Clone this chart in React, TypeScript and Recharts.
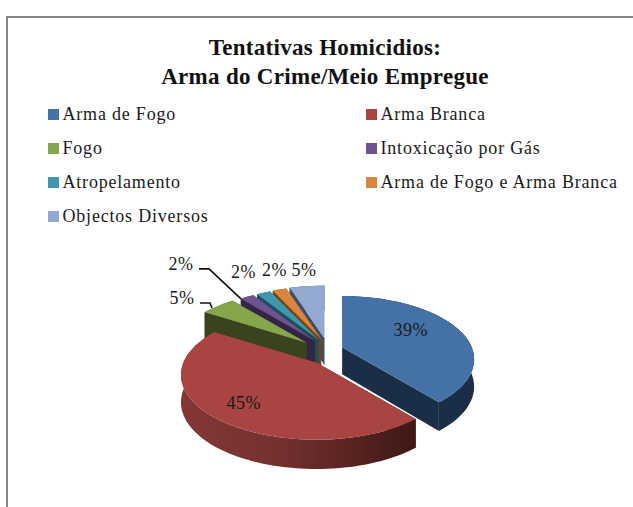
import React from 'react';
import { PieChart, Pie, Legend } from 'recharts';

const categories = [
  'Arma de Fogo',
  'Arma Branca',
  'Fogo',
  'Intoxicação por Gás',
  'Atropelamento',
  'Arma de Fogo e Arma Branca',
  'Objectos Diversos',
];
const values = [39, 45, 5, 2, 2, 2, 5];
const titleLines = ['Tentativas Homicidios:', 'Arma do Crime/Meio Empregue'];

const topColors = ['#4471a6', '#a84542', '#86a64b', '#6f5390', '#3f97ae', '#db843d', '#93a9d0'];
const sideColors = ['#1b2e47', 'url(#redWall)', '#3a431f', '#352544', '#1e4f5c', '#7a4213', '#3f4e68'];
const cutColors = ['#1b2e47', '#451a17', '#3a431f', '#352544', '#1e4f5c', '#7a4213', '#3f4e68'];

// how far each slice is pulled sideways out of the pie
const explode = [1, 1, 1.7, 1.3, 1.1, 1, 1];
// the blue slice sits a little tighter in the reference
const radiusScale = [0.975, 1, 1, 1, 1, 1, 1];
// label position relative to the middle of the slice's rim
const labelOffset = [[-46, 2], [30, -14], [-36, -8], [-66, -33], [-20, -21], [-5, -20], [-3, -16]];
const hasLeader = [false, false, true, true, false, false, false];

// 3d look
const SQUASH = 0.47;
const PERSPECTIVE = 0.19;
const DEPTH = 27;
const EXPLODE_X = 16;
const EXPLODE_Y = 14;

const FONT = '"Liberation Serif", serif';

// painted back to front, so the list runs backwards and the pie goes anticlockwise
const pieData = categories
  .map((name, idx) => ({ name, value: values[idx], idx }))
  .reverse();

const rad = (d: number) => (d * Math.PI) / 180;

function sliceGeometry(p: any) {
  const idx = p.idx ?? p.payload?.idx;
  const mid = rad((p.startAngle + p.endAngle) / 2);
  const ax = p.cx + EXPLODE_X * explode[idx] * Math.cos(mid);
  const ay = p.cy - EXPLODE_Y * Math.sin(mid);
  const radius = p.outerRadius * radiusScale[idx];
  const rim = (deg: number) => {
    const u = Math.cos(rad(deg));
    const v = -Math.sin(rad(deg));
    const w = 1 - PERSPECTIVE * v;
    return {
      x: ax + (radius * u) / w,
      y: ay + (radius * SQUASH * v) / w,
      d: DEPTH / Math.pow(w, 0.4),
    };
  };
  return { idx, ax, ay, rim };
}

const pts = (list: { x: number; y: number }[]) =>
  list.map((q) => `${q.x.toFixed(1)},${q.y.toFixed(1)}`).join(' ');

const Slice3D = (props: any) => {
  const { idx, ax, ay, rim } = sliceGeometry(props);
  const steps = Math.max(4, Math.ceil(Math.abs(props.endAngle - props.startAngle) / 2));
  const arc = Array.from({ length: steps + 1 }, (_, i) =>
    rim(props.startAngle + ((props.endAngle - props.startAngle) * i) / steps)
  );
  const lower = arc.map((q) => ({ x: q.x, y: q.y + q.d }));
  const first = arc[0];
  const last = arc[arc.length - 1];
  const apex = { x: ax, y: ay };
  const apexLow = { x: ax, y: ay + DEPTH };
  return (
    <g>
      <polygon points={pts([apex, first, { x: first.x, y: first.y + first.d }, apexLow])} fill={cutColors[idx]} />
      <polygon points={pts([apex, last, { x: last.x, y: last.y + last.d }, apexLow])} fill={cutColors[idx]} />
      <polygon points={pts([...arc, ...lower.slice().reverse()])} fill={sideColors[idx]} />
      <polygon points={pts([apex, ...arc])} fill={topColors[idx]} />
    </g>
  );
};

const renderLabel = (props: any) => {
  const { idx, rim } = sliceGeometry(props);
  const edge = rim((props.startAngle + props.endAngle) / 2);
  const x = edge.x + labelOffset[idx][0];
  const y = edge.y + labelOffset[idx][1];
  return (
    <g key={idx}>
      {hasLeader[idx] && (
        <polyline
          points={`${x + 18},${y + 5} ${x + 28},${y + 5} ${edge.x - 6},${edge.y + 2}`}
          fill="none"
          stroke="#111"
          strokeWidth={1.6}
        />
      )}
      <text
        x={x}
        y={y}
        textAnchor="middle"
        dominantBaseline="central"
        fontFamily={FONT}
        fontSize={18}
        letterSpacing={0.5}
        fill="#1a1a1a"
      >
        {values[idx]}%
      </text>
    </g>
  );
};

const LegendBlock = () => (
  <div style={{ position: 'relative', width: 633, height: 130, fontFamily: FONT }}>
    {categories.map((name, i) => {
      const col = i % 2;
      const row = Math.floor(i / 2);
      return (
        <div
          key={name}
          style={{
            position: 'absolute',
            left: col === 0 ? 48 : 366,
            top: row * 34.2,
            height: 20,
            display: 'flex',
            alignItems: 'center',
            fontSize: 18,
            letterSpacing: 0.8,
            color: '#1a1a1a',
            whiteSpace: 'nowrap',
          }}
        >
          <span style={{ width: 11, height: 11, background: topColors[i], marginRight: 3.5 }} />
          {name}
        </div>
      );
    })}
  </div>
);

export default function App() {
  return (
    <div style={{ position: 'absolute', left: 0, top: 0, width: 633, height: 507, background: '#fff', overflow: 'hidden' }}>
      <div
        style={{
          position: 'absolute',
          left: 6,
          top: 16,
          width: 640,
          height: 520,
          borderLeft: '2px solid #868686',
          borderTop: '2px solid #868686',
        }}
      />
      <div
        style={{
          position: 'absolute',
          left: 0,
          top: 33,
          width: 650,
          textAlign: 'center',
          fontFamily: FONT,
          fontWeight: 'bold',
          fontSize: 23,
          letterSpacing: 0.3,
          lineHeight: '29px',
          color: '#111',
        }}
      >
        {titleLines.map((t) => (
          <div key={t}>{t}</div>
        ))}
      </div>
      <div style={{ position: 'absolute', left: 0, top: 0 }}>
        <PieChart width={633} height={507} margin={{ top: 0, right: 0, bottom: 0, left: 0 }}>
          <defs>
            <linearGradient id="redWall" x1="0" y1="0" x2="1" y2="0">
              <stop offset="0%" stopColor="#843735" />
              <stop offset="40%" stopColor="#753130" />
              <stop offset="100%" stopColor="#3f1814" />
            </linearGradient>
          </defs>
          <Legend
            content={() => <LegendBlock />}
            wrapperStyle={{ position: 'absolute', left: 0, top: 104, width: 633 }}
          />
          <Pie
            data={pieData}
            dataKey="value"
            nameKey="name"
            cx={327}
            cy={352}
            outerRadius={133}
            startAngle={90}
            endAngle={450}
            stroke="none"
            label={renderLabel}
            labelLine={false}
            shape={Slice3D}
            isAnimationActive={false}
          />
        </PieChart>
      </div>
    </div>
  );
}
